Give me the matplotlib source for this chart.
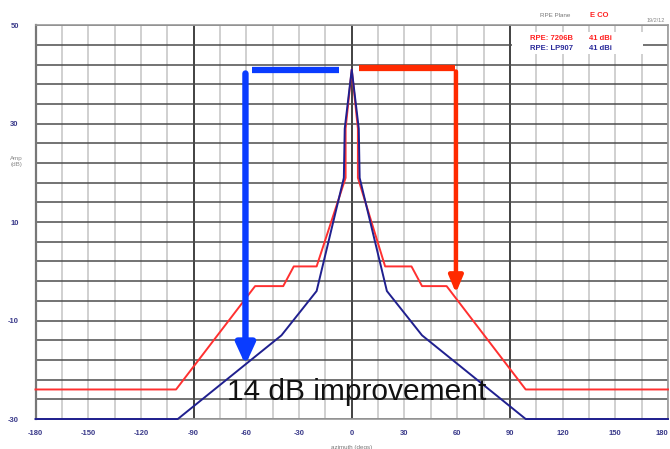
import matplotlib
matplotlib.use("Agg")
import matplotlib.pyplot as plt
from matplotlib.patches import Rectangle

plt.rcParams['font.family'] = ['Liberation Sans', 'DejaVu Sans']

# ---- data ----
red_az = [-180, -100, -55, -39, -33, -20, -3.5, -3.5, 0, 3.5, 3.5, 19, 34, 40, 54, 99, 180]
red_db = [-24, -24, -3, -3, 1, 1, 19, 29, 41, 29, 19, 1, 1, -3, -3, -24, -24]
blue_az = [-180, -99, -40, -20, -4.5, -4, 0, 4, 4.5, 20, 40, 99, 180]
blue_db = [-30, -30, -13, -4, 19, 29, 41, 29, 19, -4, -13, -30, -30]

x_ticks = [-180, -150, -120, -90, -60, -30, 0, 30, 60, 90, 120, 150, 180]
y_ticks = [50, 30, 10, -10, -30]
x_grid = list(range(-180, 181, 15))
y_grid = list(range(-30, 51, 4))

red_name, red_gain = "RPE: 7206B", "41 dBi"
blue_name, blue_gain = "RPE: LP907", "41 dBi"

# arrows (azimuth, dB)
blue_bar = ([-56.6, -7.2], [41.0, 41.0])
blue_arrow = (-60.5, 40.2, -19.0)
red_bar = ([4.2, 58.8], [41.4, 41.4])
red_arrow = (59.3, 40.6, -4.4)

fig = plt.figure(figsize=(6.7, 4.49), dpi=100)
ax = fig.add_axes([0.053, 0.0668, 0.944, 0.877])
ax.set_xlim(-180, 180)
ax.set_ylim(-30, 50)

for xv in x_grid:
    if xv in (-90, 0, 90):
        ax.axvline(xv, color='#333333', lw=1.3, zorder=1)
    else:
        ax.axvline(xv, color='#c8c8c8', lw=1.2, zorder=1)
for yv in y_grid:
    ax.axhline(yv, color='#4d4d4d', lw=1.1, zorder=1)

for s in ax.spines.values():
    s.set_color('#9a9a9a')
    s.set_linewidth(1.2)
ax.spines['left'].set_color('#777777')
ax.spines['left'].set_linewidth(1.6)

# legend white box
ax.add_patch(Rectangle((91, 44.2), 75, 4.4, facecolor='white', edgecolor='none', zorder=2))
ax.text(101.5, 47.4, red_name, color='#ff2020', fontsize=5.5, fontweight='bold', va='center', zorder=3)
ax.text(135, 47.4, red_gain, color='#ff2020', fontsize=5.5, fontweight='bold', va='center', zorder=3)
ax.text(101.5, 45.3, blue_name, color='#2a2a9a', fontsize=5.5, fontweight='bold', va='center', zorder=3)
ax.text(135, 45.3, blue_gain, color='#2a2a9a', fontsize=5.5, fontweight='bold', va='center', zorder=3)

ax.plot(red_az, red_db, color='#ff3030', lw=1.4, zorder=4, clip_on=False)
ax.plot(blue_az, blue_db, color='#20208f', lw=1.4, zorder=4, clip_on=False)

# thick arrows
ax.plot(blue_bar[0], blue_bar[1], color='#0a3cff', lw=4.5, solid_capstyle='butt', zorder=5)
ax.annotate('', xy=(blue_arrow[0], blue_arrow[2]), xytext=(blue_arrow[0], blue_arrow[1]),
            arrowprops=dict(arrowstyle='-|>,head_width=0.55,head_length=1.2', color='#0a3cff',
                            lw=4.6, shrinkA=0, shrinkB=0, mutation_scale=10), zorder=5)
ax.plot(red_bar[0], red_bar[1], color='#ff2a00', lw=4.5, solid_capstyle='butt', zorder=5)
ax.annotate('', xy=(red_arrow[0], red_arrow[2]), xytext=(red_arrow[0], red_arrow[1]),
            arrowprops=dict(arrowstyle='-|>,head_width=0.42,head_length=1.0', color='#ff2a00',
                            lw=3.2, shrinkA=0, shrinkB=0, mutation_scale=10), zorder=5)

ax.text(2.8, -24.6, "14 dB improvement", fontsize=21.5, color='#111111', ha='center', va='center', zorder=6)

ax.set_xticks(x_ticks)
ax.set_xticklabels([str(v) for v in x_ticks])
ax.set_yticks(y_ticks)
ax.set_yticklabels([str(v) for v in y_ticks])
ax.tick_params(axis='both', length=0, labelsize=5.5, labelcolor='#3a3a8a')
ax.tick_params(axis='x', pad=8)
ax.tick_params(axis='y', pad=12)
for lab in ax.get_xticklabels() + ax.get_yticklabels():
    lab.set_fontweight('bold')
ax.get_xticklabels()[-1].set_horizontalalignment('right')

ax.set_xlabel("azimuth (degs)", fontsize=4.5, color='#777777', labelpad=6)
fig.text(0.024, 0.64, "Amp\n(dB)", fontsize=4.5, color='#888888', ha='center', va='center')

fig.text(0.806, 0.966, "RPE Plane", fontsize=4.5, color='#777777', ha='left', va='center')
fig.text(0.881, 0.966, "E CO", fontsize=5.5, color='#ff2020', fontweight='bold', ha='left', va='center')
fig.text(0.992, 0.955, "19/2/12", fontsize=4, color='#888888', ha='right', va='center')

fig.savefig("out.png", dpi=100)
